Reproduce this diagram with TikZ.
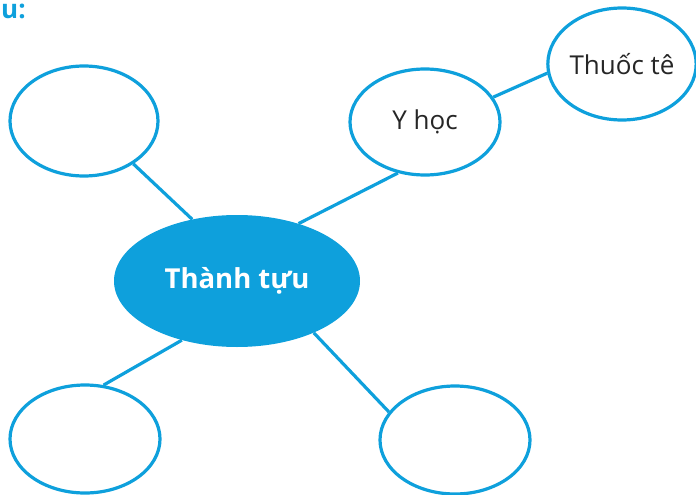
\documentclass[tikz,border=0pt]{standalone}
\usepackage{fontspec}
\setmainfont{Open Sans}
\usetikzlibrary{shapes.geometric}
\definecolor{mapblue}{RGB}{14,160,220}
\tikzset{
  bubble/.style={ellipse, draw=mapblue, line width=3.2pt, fill=white, inner sep=0pt},
  hub/.style={ellipse, fill=mapblue, inner sep=0pt, text=white, font=\bfseries\fontsize{27.5}{32}\selectfont},
  link/.style={draw=mapblue, line width=3.2pt},
  lbl/.style={font=\fontsize{26}{30}\selectfont, text=black!85}
}
\begin{document}
\begin{tikzpicture}[x=1pt,y=-1pt]
\useasboundingbox (0,0) rectangle (696,495);
\node[anchor=base west, inner sep=0pt, text=mapblue, font=\bfseries\fontsize{26}{30}\selectfont] (head) at (1,19) {u:};
\node[hub, minimum width=246pt, minimum height=132pt] (c) at (237,281) {Thành tựu};
\node[bubble, minimum width=148pt, minimum height=110pt] (tl) at (84,121) {};
\node[bubble, minimum width=150pt, minimum height=106pt, lbl] (y) at (425,122) {Y học};
\node[bubble, minimum width=144pt, minimum height=112pt, lbl] (t) at (622,64) {Thuốc tê};
\node[bubble, minimum width=150pt, minimum height=108pt] (bl) at (85,439) {};
\node[bubble, minimum width=150pt, minimum height=108pt] (br) at (455,440) {};
\draw[link] (c.126.7) -- (tl.-41.9);
\draw[link] (c.43.1) -- (y.242.6);
\draw[link] (y.20.2) -- (t.187.9);
\draw[link] (c.227) -- (bl.71.9);
\draw[link] (c.-34.4) -- (br.157.4);
\end{tikzpicture}
\end{document}
